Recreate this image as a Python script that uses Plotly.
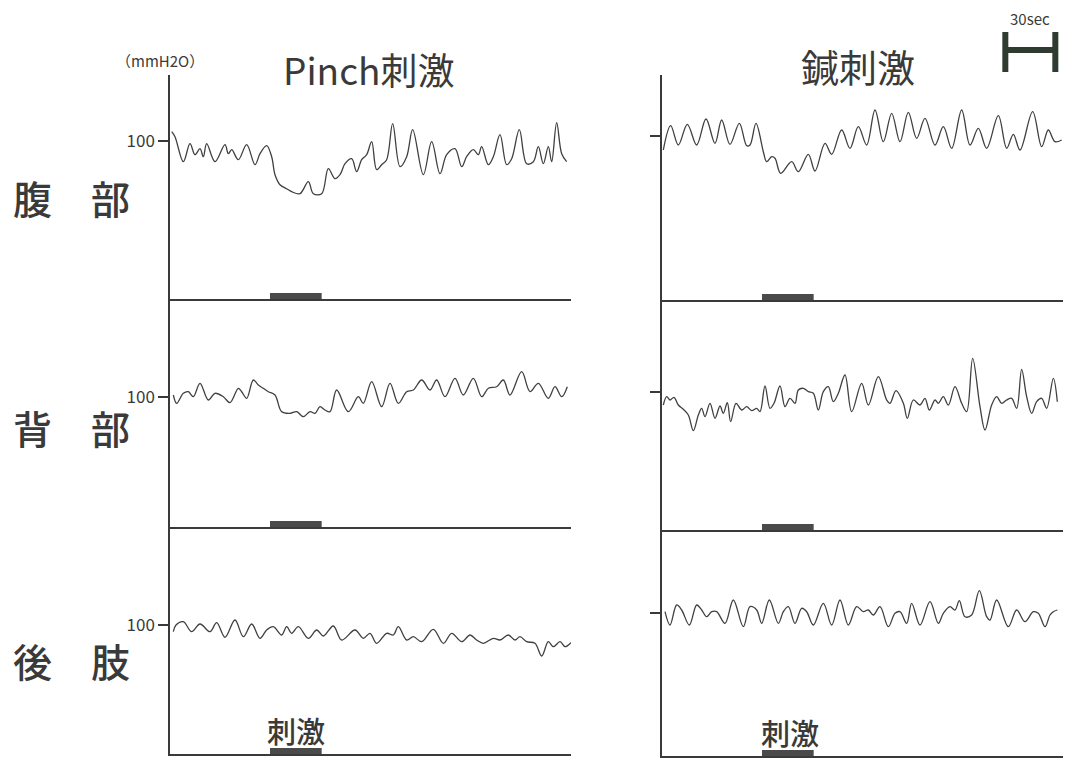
import plotly.graph_objects as go

# ---------------- data (time in s, pressure in mmH2O) ----------------
# Pinch stimulation - abdomen
t_pinch_abd = [1, 3, 8, 12, 15, 18, 20, 22, 27, 33, 35, 37, 41, 46, 51, 54, 58, 61, 63, 66,
               70, 73, 78, 83, 86, 91, 95, 99, 102, 105, 109, 112, 115, 118, 121, 124, 127, 130, 133.6, 138,
               142, 145.6, 152, 157, 162, 166, 171, 175, 178, 182, 185, 187, 191, 194, 198, 202, 205, 209.6, 214, 218,
               221, 224, 227, 229, 232, 235, 238]
p_pinch_abd = [109, 104, 79, 97, 86, 92, 84, 97, 79, 96, 87, 91, 81, 96, 76, 87, 95, 84, 66, 56,
               52, 49, 47, 59, 47, 47, 72, 62, 66, 77, 82, 69, 81, 86, 99, 71, 76, 81, 117, 74,
               84, 111, 66, 99, 67, 86, 92, 74, 84, 91, 86, 94, 76, 84, 106, 76, 82, 111, 77, 79,
               94, 77, 94, 79, 118, 87, 79]

# Acupuncture stimulation - abdomen
t_acu_abd = [0.8, 5.2, 9.8, 15.2, 20.8, 26.4, 31.8, 35.8, 40.8, 46.4, 50.8, 52.8, 56.4, 60.8, 62.8, 65.8, 67.8,
             71.2, 77.8, 81.8, 87.8, 91.8, 97.8, 101.8, 107.8, 112.8, 117.8, 122.8, 127.8, 132.8, 137.8, 142.8,
             147.8, 152.8, 157.8, 163.8, 168.8, 173.8, 179.8, 184.8, 189.8, 194.8, 201.8, 206.8, 210.8, 214.8,
             222.4, 227.8, 231.8, 235.8, 239.8]
p_acu_abd = [85.7, 110, 90.7, 111.4, 90.7, 116.7, 92.4, 115.7, 91.4, 112.4, 90, 90.7, 112.4, 84, 74, 79, 77.4,
             62.4, 74, 64, 81.4, 64.7, 92.4, 81.4, 105.7, 87.4, 109, 90.7, 125.7, 94, 122.4, 94,
             123.4, 97.4, 117.4, 90.7, 109, 87.4, 125.7, 90.7, 107.4, 87.4, 120, 87.4, 101.4, 85.7,
             124, 89, 105.7, 94, 95.7]

# Pinch stimulation - back
t_pinch_back = [2, 4, 8, 11, 14, 18, 23, 27, 32, 36, 41, 43, 46, 50, 53, 56, 59, 63, 67, 72,
                76, 80, 84, 87, 90, 93, 96, 100, 107, 113, 116, 121, 127, 132, 137, 142, 146, 151, 156, 160,
                165, 171, 176, 182, 187, 191, 196, 200, 204, 211, 216, 221, 227, 231, 235, 238.4]
p_pinch_back = [101.7, 93.4, 103.4, 105, 100, 113.4, 96.7, 103.4, 100, 94, 108.4, 105, 98.4, 116.7, 111.7, 108.4,
                105, 101.7, 85, 83.4, 85, 80, 85, 83.4, 90, 86.7, 85, 106.7, 85, 100, 93.4, 115, 90, 113.4,
                93.4, 105, 106.7, 116.7, 106.7, 116.7, 100, 118.4, 101.7, 118.4, 100, 108.4, 110, 116.7,
                101.7, 125, 105, 113.4, 98.4, 110, 100, 110]

# Acupuncture stimulation - back
t_acu_back = [0.8, 2.8, 4.8, 7.2, 9.8, 12.8, 15.8, 18.8, 21.8, 23.8, 25.8, 28.8, 31.8, 34.8, 36.8, 39.2, 41.2,
              44.4, 47.8, 50.8, 53.8, 56.8, 58.8, 61.8, 64.8, 67.2, 70.8, 73.8, 76.8, 79.8, 81.8, 84.8, 87.8,
              90.8, 93.8, 96.8, 99.8, 102.8, 105.8, 109.8, 113.8, 119.8, 123.8, 129.8, 134.8, 136.8, 140.4,
              144.8, 147.2, 150.8, 154.8, 157.8, 160.4, 163.8, 165.8, 168.8, 171.8, 175.8, 179.8, 182.8,
              186.4, 190.8, 193.8, 197.8, 200.8, 203.8, 206.8, 209.8, 212.8, 215.8, 218.8, 221.8, 224.8,
              227.8, 230.8, 234.8, 237.2]
p_acu_back = [87.3, 95.6, 92.3, 95, 87.3, 83, 77.3, 61.6, 77.3, 84, 75.6, 89, 74, 86.3, 79, 89.6, 70.6,
              89, 82.3, 85.6, 81.6, 84, 80.6, 106.3, 84, 89, 106.3, 85.6, 94, 89, 102.3, 104, 100.6,
              99, 82.3, 100.6, 105.6, 90.6, 99, 117.3, 80.6, 109, 87.3, 115.6, 92.3, 89, 101.6,
              89, 74, 92.3, 87.3, 94, 82.3, 92.3, 89, 95.6, 87.3, 105.6, 89, 80.6,
              134, 85.6, 62.3, 87.3, 95.6, 89, 92.3, 94, 84, 123, 95.6, 79, 90.6,
              94, 84, 114, 90.6]

# Pinch stimulation - hind limb
t_pinch_limb = [2, 3.6, 8, 13, 18, 24, 28, 33, 39, 44, 49, 54, 58, 62, 67, 70, 73, 77, 83, 88,
                92, 98, 103, 111, 116, 120, 124, 130, 134, 137, 142, 146, 151, 158, 164, 169, 175, 180, 184, 188,
                194, 198, 203, 207, 210, 214, 219, 223, 227, 230, 234, 237, 240.5]
p_pinch_limb = [93.3, 100, 103.3, 93.3, 101, 93.3, 102.3, 87.7, 105, 88.3, 101, 86.7, 95, 98.3, 90, 98.3,
                91.7, 98.3, 86.7, 95, 89, 99, 85, 95, 86.7, 91.7, 81.7, 91.7, 90, 98.3, 85, 88.3, 83.3,
                95.7, 81.7, 91.7, 83.3, 90, 85, 81.7, 86.7, 85, 90, 85, 88.3, 83.3, 81.7, 69, 83.3, 78.3,
                83.3, 78.3, 82.3]

# Acupuncture stimulation - hind limb
t_acu_limb = [1.8, 4.8, 8.8, 11.8, 16.4, 20.8, 23.8, 26.8, 29.8, 32.8, 37.8, 42.8, 48.8, 52.8, 56.8, 59.8,
              64.4, 69.8, 72.8, 75.8, 79.8, 83.8, 86.8, 90.8, 96.8, 101.8, 106.8, 111.8, 116.8, 120.8,
              123.8, 126.8, 130.8, 135.8, 139.8, 142.8, 146.8, 149.8, 154.8, 160.8, 165.8, 168.8, 172.8,
              175.8, 178.4, 181.8, 185.8, 190.4, 194.8, 196.8, 200.8, 207.8, 212.8, 217.8, 222.8, 225.8,
              229.8, 232.8, 234.8, 237.2]
p_acu_limb = [101.6, 88.3, 108.3, 103.3, 88.3, 108.3, 103.3, 96.6, 101.6, 101.6, 90, 113.3, 86.6, 106.6,
              103.3, 90, 113.3, 90, 101.6, 106.6, 90, 105, 101.6, 88.3, 110, 88.3, 113.3, 88.3, 106.6,
              101.6, 103.3, 98.3, 106.6, 86.6, 100, 101.6, 90, 110, 88.3, 111.6, 90, 100, 106.6, 103.3,
              112.6, 96.6, 98.3, 122.6, 96.6, 93.3, 113.3, 86.6, 103.3, 91.6, 101.6, 100, 86.6, 98.3,
              101.6, 103.3]

stim_period = [60, 91]      # s
scale_bar_sec = 30          # s
tick_value = 100            # mmH2O
tick_label = "100"

col_titles = ["Pinch刺激", "鍼刺激"]
row_labels = ["腹\u3000部", "背\u3000部", "後\u3000肢"]
stim_label = "刺激"
unit_label = "（mmH2O）"
scale_label = "30sec"

# ---------------- layout (pixels) ----------------
W, H = 1065, 758
SEC_PER_PX = 0.6
MM_PER_PX = 1.0
INK = "#3a3a3a"
FONT = "Noto Sans CJK JP, Noto Sans, sans-serif"

def fx(px):
    return px / W

def fy(py):
    return 1 - py / H

# (time, pressure, x-left px, x-right px, top px, bottom px, tick px, show label)
panels = [
    (t_pinch_abd, p_pinch_abd, 170, 571, 75, 299, 140.7, True),
    (t_acu_abd, p_acu_abd, 662, 1063, 75, 300, 135.7, False),
    (t_pinch_back, p_pinch_back, 170, 571, 299, 527, 396.7, True),
    (t_acu_back, p_acu_back, 662, 1063, 300, 530, 392.3, False),
    (t_pinch_limb, p_pinch_limb, 170, 571, 527, 754, 625.0, True),
    (t_acu_limb, p_acu_limb, 662, 1063, 530, 756, 613.3, False),
]

fig = go.Figure()
layout = {}
shapes = []
for i, (tt, pp, xl, xr, top, bot, tick, lab) in enumerate(panels, start=1):
    sfx = "" if i == 1 else str(i)
    xname, yname = "x" + sfx, "y" + sfx
    ybot = tick_value - (bot - tick) * MM_PER_PX
    ytop = tick_value + (tick - top) * MM_PER_PX
    fig.add_trace(go.Scatter(
        x=tt, y=pp, mode="lines", xaxis=xname, yaxis=yname,
        line=dict(color="#404040", width=1.3, shape="spline", smoothing=1.0),
        hoverinfo="skip", showlegend=False,
    ))
    layout["xaxis" + sfx] = dict(
        domain=[fx(xl), fx(xr)], range=[0, (xr - xl) * SEC_PER_PX], anchor=yname,
        showline=True, linecolor=INK, linewidth=1.5, showgrid=False, zeroline=False,
        showticklabels=False, ticks="", fixedrange=True,
    )
    layout["yaxis" + sfx] = dict(
        domain=[fy(bot), fy(top)], range=[ybot, ytop], anchor=xname,
        showline=True, linecolor=INK, linewidth=1.5, showgrid=False, zeroline=False,
        tickmode="array", tickvals=[tick_value], ticktext=[tick_label],
        showticklabels=lab, ticks="outside", ticklen=10, tickwidth=1.5, tickcolor=INK,
        tickfont=dict(family=FONT, size=17, color=INK), fixedrange=True,
    )
    # stimulus bar on the baseline
    shapes.append(dict(
        type="rect", xref=xname, yref=yname,
        x0=stim_period[0], x1=stim_period[1], y0=ybot, y1=ybot + 6 * MM_PER_PX,
        fillcolor="#4a4a4a", line=dict(width=0),
    ))

# 30 sec scale bar (H shape) drawn on the time scale of the right panels
sb0 = 206
sb1 = sb0 + scale_bar_sec
for xv in (sb0, sb1):
    shapes.append(dict(type="line", xref="x2", yref="paper", x0=xv, x1=xv,
                       y0=fy(32), y1=fy(72), line=dict(color="#2f3a30", width=6)))
shapes.append(dict(type="line", xref="x2", yref="paper", x0=sb0, x1=sb1,
                   y0=fy(50), y1=fy(50), line=dict(color="#2f3a30", width=6)))

ann = []
def text(s, px, py, size, weight="normal"):
    ann.append(dict(text=s, x=fx(px), y=fy(py), xref="paper", yref="paper",
                    xanchor="center", yanchor="middle", showarrow=False,
                    font=dict(family=FONT, size=size, color=INK, weight=weight)))

text(unit_label, 160, 60, 15)
text(col_titles[0], 369, 69, 37)
text(col_titles[1], 858, 65, 38)
for lbl, py in zip(row_labels, [197, 427, 660]):
    text(lbl, 71, py, 39, weight=500)
text(stim_label, 296, 730, 29, weight=500)
text(stim_label, 790, 732, 29, weight=500)
text(scale_label, 1030, 18, 15)

fig.update_layout(
    width=W, height=H, margin=dict(l=0, r=0, t=0, b=0),
    paper_bgcolor="white", plot_bgcolor="white",
    shapes=shapes, annotations=ann, **layout,
)

fig.write_html(
    "out.html",
    config={"displayModeBar": False},
    post_script="document.body.style.margin='0';document.body.style.padding='0';"
                "document.body.style.overflow='hidden';",
)
